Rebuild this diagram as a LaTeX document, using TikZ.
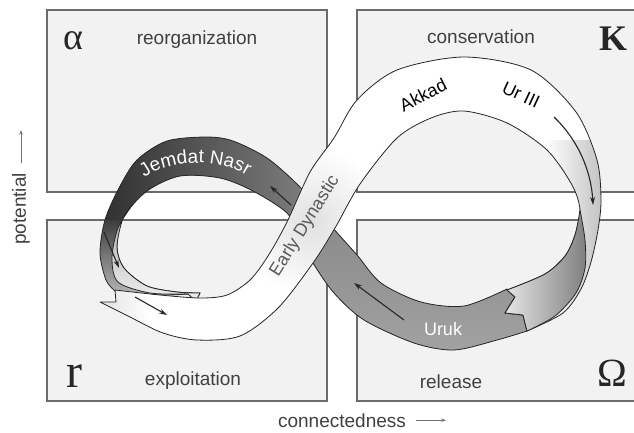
\documentclass[tikz,border=0pt]{standalone}
\usepackage{fontspec}
\setmainfont{Liberation Sans}
\newfontfamily\serifgr{Liberation Serif}
\usetikzlibrary{arrows.meta,decorations.text}

\newcommand{\bandlight}{(100,302) -- plot[smooth] coordinates {(100,302) (130,317) (163,333) (197,340) (240,336) (278,308) (313,263) (335,228) (360,184) (397,138) (431,118) (464,111) (507,123) (547,150) (572,185) (580,210) (575,235) (565,256) (545,274) (507,290)} -- (515,297) -- (505,313) -- (523,315) -- (527,331) -- plot[smooth] coordinates {(527,331) (563,313) (581,289) (591,262) (598,230) (601,200) (597,160) (576,112) (531,70) (464,57) (397,70) (357,100) (334,138) (310,172) (287,222) (268,256) (250,280) (227,295) (200,298) (160,295) (115,290)} -- (116,302) -- cycle}
\newcommand{\banddark}{(507,289) -- plot[smooth] coordinates {(507,289) (464,306) (421,302) (381,283) (357,255) (333,228) (315,205) (297,184) (267,158) (233,141) (207,137) (167,141) (137,160) (119,188) (105,220) (100,253) (106,280) (115,291)} -- plot[smooth] coordinates {(115,291) (160,295) (188,294)} -- (196,301) -- (200,293) -- plot[smooth] coordinates {(200,293) (177,292) (147,286) (124,268) (117,247) (123,218) (147,191) (180,176) (220,178) (253,191) (287,213) (300,238) (313,263) (334,293) (364,320) (414,343) (454,350) (497,340) (527,331)} -- (523,315) -- (505,313) -- (515,297) -- cycle}
\newcommand{\twistface}{(507,290) -- plot[smooth] coordinates {(507,290) (545,274) (565,256) (575,235) (580,210)} -- plot[smooth] coordinates {(580,210) (585,240) (585,268) (576,293) (555,316) (527,331)} -- (523,315) -- (505,313) -- (515,297) -- cycle}
\newcommand{\leftface}{plot[smooth] coordinates {(133,204) (118,228) (112,258) (118,282) (150,293) (188,294)} -- (196,301) -- (200,293) -- plot[smooth] coordinates {(200,293) (177,292) (147,286) (124,268) (117,247) (123,218) (133,204)} -- cycle}

\begin{document}
\begin{tikzpicture}[x=1pt, y=-1pt,
  box/.style={fill=black!5, draw=black!58, line width=2.2pt},
  edge/.style={draw=black!85, line width=0.8pt, line join=round},
  arr/.style={draw=black!85, line width=1.1pt, -{Stealth[length=8pt,width=5pt]}},
  axarr/.style={draw=black!55, line width=0.9pt, -{Stealth[length=5pt,width=3.5pt]}},
  lbl/.style={font=\fontsize{19}{19}\selectfont, text=black!75, anchor=base, inner sep=0pt},
  greek/.style={font=\serifgr\fontsize{38}{38}\selectfont, text=black!85, anchor=base, inner sep=0pt},
  bandtxt/.style={font=\fontsize{18}{18}\selectfont, inner sep=0pt}]
\clip (0,0) rectangle (634,432);
\fill[white] (0,0) rectangle (634,432);
\draw[box] (47,10) rectangle (327,192);
\draw[box] (357,10) rectangle (640,192);
\draw[box] (47,220) rectangle (327,401);
\draw[box] (357,220) rectangle (640,401);
\node[lbl] (reorg) at (197,44) {reorganization};
\node[lbl] (cons) at (481,43) {conservation};
\node[lbl] (expl) at (193,385) {exploitation};
\node[lbl] (rel) at (451,388) {release};
\node[greek] (alpha) at (73,49) {α};
\node[greek, font=\serifgr\bfseries\fontsize{36}{36}\selectfont] (kay) at (613,50) {K};
\node[greek, font=\serifgr\fontsize{48}{48}\selectfont] (ar) at (74,387) {r};
\node[greek, font=\serifgr\fontsize{40}{40}\selectfont] (omega) at (612,386) {Ω};
\node[lbl, rotate=90, anchor=center] (pot) at (21,209) {potential};
\draw[axarr] ([yshift=10pt]pot.east) -- ++(0,-33);
\node[lbl] (conn) at (342,427) {connectedness};
\draw[axarr] ([xshift=10pt]conn.east) -- ++(30,0);
% back band: Uruk, Jemdat Nasr
\begin{scope}
\clip \banddark;
\fill[black!40] (90,120) rectangle (540,360);
\shade[left color=black!82, right color=black!52] (95,125) rectangle (300,220);
\shade[top color=black!76, bottom color=black!22] (95,220) rectangle (210,305);
\shade[top color=black!46, bottom color=black!36] (300,220) rectangle (540,360);
\end{scope}
\draw[edge] \banddark;
\shade[top color=black!35, bottom color=black!6] \leftface;
\draw[edge] \leftface;
% front band: Early Dynastic, Akkad, Ur III
\begin{scope}
\clip \bandlight;
\fill[white] (90,50) rectangle (610,345);
\shade[inner color=black!12, outer color=white] (312,222) circle (75);
\shade[left color=white, right color=black!25] (545,140) rectangle (605,340);
\shade[left color=black!12, right color=white] (98,280) rectangle (150,345);
\end{scope}
\draw[edge] \bandlight;
\shade[left color=black!10, right color=black!50] \twistface;
\draw[edge] \twistface;
\draw[arr] (554,117) .. controls (576,138) and (591,168) .. (593,205);
\draw[arr] (404,320) -- (354,283);
\draw[arr] (291,205) -- (270,186);
\draw[arr] (104,232) -- (119,268);
\draw[arr] (135,297) -- (167,315);
\path[decorate, decoration={text along path, text align=center, text={|\fontsize{19}{19}\selectfont\color{white}|Jemdat Nasr}}] (137,185) .. controls (160,156) and (230,156) .. (255,182);
\node[bandtxt, text=black!65, rotate=58] (edyn) at (305,226) {Early Dynastic};
\node[bandtxt, rotate=27] (akkad) at (423,95) {Akkad};
\node[bandtxt, rotate=-25] (ur) at (521,95) {Ur III};
\node[bandtxt, text=white] (uruk) at (443,329) {Uruk};
\end{tikzpicture}
\end{document}
